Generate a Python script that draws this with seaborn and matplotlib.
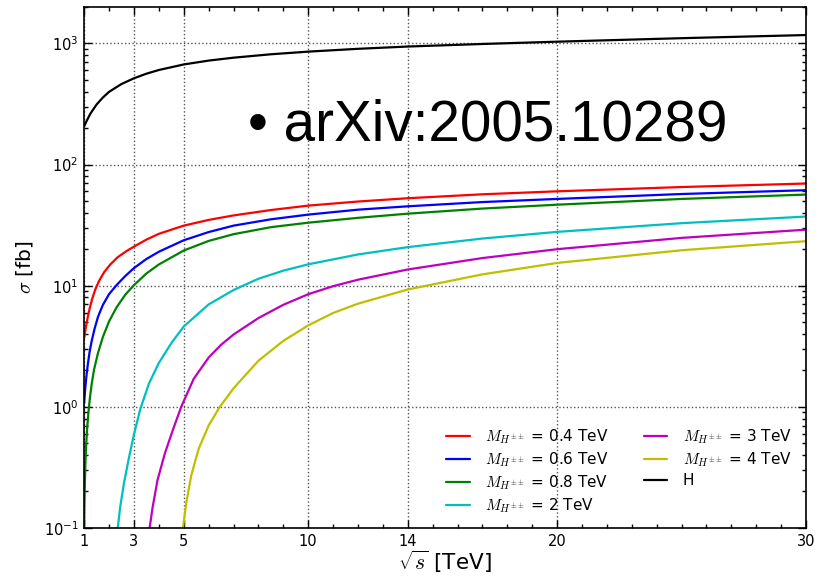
import matplotlib
matplotlib.use("Agg")
import matplotlib.pyplot as plt
import seaborn as sns
from matplotlib.ticker import FixedLocator, MultipleLocator, LogLocator

sns.set_style("ticks", {"text.color": "black", "axes.labelcolor": "black",
                        "xtick.color": "black", "ytick.color": "black"})
plt.rcParams['font.family'] = ['DejaVu Sans']
plt.rcParams['mathtext.fontset'] = 'cm'
plt.rcParams['axes.unicode_minus'] = False

# sqrt(s) [TeV] and sigma [fb], one pair of lists per curve
x_04 = [1, 1.04, 1.08, 1.14, 1.22, 1.32, 1.45, 1.6, 1.8, 2.05, 2.35, 2.7, 3, 3.5, 4, 5, 6,
        7, 8.5, 10, 12, 14, 17, 20, 25, 30]
y_04 = [3.7, 4.17, 4.68, 5.43, 6.46, 7.76, 9.33, 10.96, 12.9, 14.96, 17.2, 19.3, 21.0, 24.0,
        26.8, 31.3, 34.9, 38.0, 42.1, 45.8, 49.5, 52.7, 56.8, 60.1, 65.2, 69.7]

x_06 = [1, 1.02, 1.045, 1.07, 1.1, 1.15, 1.22, 1.3, 1.42, 1.56, 1.75, 2, 2.3, 2.65, 3, 3.5,
        4, 5, 6, 7, 8.5, 10, 12, 14, 17, 20, 25, 30]
y_06 = [1.07, 1.23, 1.43, 1.62, 1.86, 2.26, 2.85, 3.47, 4.42, 5.56, 6.92, 8.51, 10.1, 12.0,
        13.96, 16.6, 19.05, 23.7, 27.7, 31.3, 35.3, 38.6, 42.4, 45.2, 49.0, 52.0, 57.1, 61.4]

x_08 = [1, 1.01, 1.025, 1.05, 1.08, 1.12, 1.17, 1.23, 1.3, 1.4, 1.55, 1.75, 2, 2.3, 2.65, 3,
        3.5, 4, 5, 6, 7, 8.5, 10, 12, 14, 17, 20, 25, 30]
y_08 = [0.1, 0.148, 0.219, 0.339, 0.479, 0.661, 0.891, 1.175, 1.53, 2.04, 2.75, 3.76, 5.07,
        6.61, 8.41, 10.1, 12.6, 14.96, 19.5, 23.4, 26.6, 30.4, 33.1, 36.3, 39.3, 43.3, 46.6,
        52.0, 56.5]

x_2 = [2.35, 2.45, 2.6, 2.8, 3, 3.25, 3.6, 4, 4.5, 5, 6, 7, 8, 9, 10, 12, 14, 17, 20, 25, 30]
y_2 = [0.1, 0.15, 0.235, 0.38, 0.59, 0.95, 1.55, 2.3, 3.35, 4.6, 7.0, 9.2, 11.4, 13.3, 15.0,
       18.1, 20.8, 24.5, 27.8, 32.8, 37.2]

x_3 = [3.63, 3.75, 3.95, 4.25, 4.6, 4.9, 5.4, 6, 6.5, 7, 8, 9, 10, 11, 12, 14, 17, 20, 25, 30]
y_3 = [0.1, 0.148, 0.25, 0.417, 0.676, 1.0, 1.7, 2.55, 3.25, 3.95, 5.4, 6.95, 8.5, 9.9,
       11.2, 13.6, 16.9, 20.0, 24.8, 29]

x_4 = [4.97, 5.1, 5.3, 5.6, 6, 6.45, 7, 8, 9, 10, 11, 12, 14, 17, 20, 25, 30]
y_4 = [0.1, 0.16, 0.27, 0.45, 0.70, 1.0, 1.42, 2.4, 3.5, 4.7, 5.95, 7.1, 9.3, 12.4, 15.4,
       19.6, 23.3]

x_h = [1, 1.1, 1.25, 1.5, 1.75, 2, 2.5, 3, 3.5, 4, 5, 6, 7, 8.5, 10, 12, 14, 17, 20, 25, 30]
y_h = [207, 229, 263, 313, 357, 398, 462, 515, 562, 603, 670, 721, 762, 813, 855, 902, 942,
       989, 1033, 1104, 1172]

labels = [r"$M_{H^{\pm\pm}}$ = 0.4 TeV", r"$M_{H^{\pm\pm}}$ = 0.6 TeV",
          r"$M_{H^{\pm\pm}}$ = 0.8 TeV", r"$M_{H^{\pm\pm}}$ = 2 TeV",
          r"$M_{H^{\pm\pm}}$ = 3 TeV", r"$M_{H^{\pm\pm}}$ = 4 TeV", "H"]
colors = ["r", "b", "g", "c", "m", "y", "k"]
xs = [x_04, x_06, x_08, x_2, x_3, x_4, x_h]
ys = [y_04, y_06, y_08, y_2, y_3, y_4, y_h]

xticks = [1, 3, 5, 10, 14, 20, 30]

fig = plt.figure(figsize=(8.25, 5.77), dpi=100)
ax = fig.add_axes([0.102, 0.085, 0.875, 0.903])

for xv, yv, c, lab in zip(xs, ys, colors, labels):
    sns.lineplot(x=xv, y=yv, color=c, label=lab, linewidth=1.6, ax=ax)

ax.set_yscale("log")
ax.set_xlim(1, 30)
ax.set_ylim(0.1, 2000)
ax.xaxis.set_major_locator(FixedLocator(xticks))
ax.set_xticklabels([str(t) for t in xticks])
ax.xaxis.set_minor_locator(MultipleLocator(1))
ax.yaxis.set_major_locator(LogLocator(base=10, numticks=10))
ax.yaxis.set_minor_locator(LogLocator(base=10, subs=range(2, 10), numticks=20))

ax.tick_params(which="both", direction="in", top=True, right=True,
               labelsize=10.5, pad=4)
ax.tick_params(which="major", length=6, width=1)
ax.tick_params(which="minor", length=3, width=1)
for s in ax.spines.values():
    s.set_linewidth(1.2)
    s.set_color("black")

ax.grid(True, which="major", linestyle=":", color="#555555", linewidth=1)

ax.set_xlabel(r"$\sqrt{s}$ [TeV]", fontsize=15.5, labelpad=0)
ax.set_ylabel(r"$\sigma$ [fb]", fontsize=14.5, labelpad=6)

ax.legend(loc="lower right", ncol=2, frameon=False, fontsize=11,
          handlelength=1.55, handletextpad=1.0, columnspacing=2.3, labelspacing=0.3,
          borderaxespad=0.3, bbox_to_anchor=(0.995, 0.004))

fig.text(0.3, 0.757, "\u2022 arXiv:2005.10289", family=["Liberation Sans", "DejaVu Sans"],
         fontsize=40.8, va="baseline", ha="left", color="black")

fig.savefig("out.png", dpi=100)
